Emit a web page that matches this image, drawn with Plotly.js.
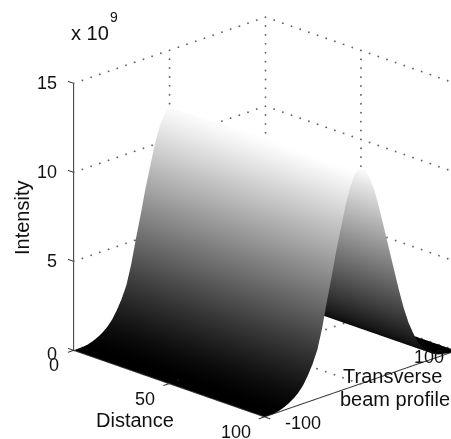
<!DOCTYPE html>
<html>
<head>
<meta charset="utf-8">
<script src="https://cdn.plot.ly/plotly-3.0.0.min.js"></script>
<style>html,body{margin:0;padding:0;background:#fff}#plot{width:451px;height:439px}</style>
</head>
<body>
<div id="plot"></div>
<script>
// Data (intensity in units of 1e9)
var distance = [0, 25, 50, 75, 100];
var peakByDistance = [11.75, 11.85, 11.95, 12.05, 12.15];
var transverse = [-100,-95,-90,-85,-80,-75,-70,-65,-60,-55,-50,-45,-40,-35,-30,-25,-20,-15,-10,-5,0,5,10,15,20,25,30,35,40,45,50,55,60,65,70,75,80,85,90,95,100];
var profile = [0,0.01,0.02,0.06,0.15,0.28,0.45,0.68,1,1.45,2,2.7,3.8,5.2,6.5,7.9,9.1,10.3,11.2,11.8,12,11.8,11.2,10.4,9.3,8.1,6.9,5.7,4.5,3.4,2.5,1.8,1.2,0.8,0.5,0.3,0.16,0.08,0.04,0.01,0];
var zTicks = [0, 5, 10, 15];
var xGrid = [0, 50, 100];
var yGrid = [-100, 0, 100];
var xTickLabels = ['0', '50', '100'];
var yTickLabels = ['-100', '100'];
var zTickLabels = ['0', '5', '10', '15'];

var zMatrix = profile.map(function (v) { return peakByDistance.map(function (p) { return v * p / 12; }); });

var traces = [{
  type: 'surface', x: distance, y: transverse, z: zMatrix,
  colorscale: [[0, '#000000'], [1, '#ffffff']], cmin: 0, cmax: 12, showscale: false,
  lighting: {ambient: 1, diffuse: 0, specular: 0, roughness: 1, fresnel: 0},
  hoverinfo: 'skip'
}];
function seg(xs, ys, zs, color, w) {
  traces.push({type: 'scatter3d', mode: 'lines', x: xs, y: ys, z: zs, hoverinfo: 'skip', showlegend: false,
    line: {color: color, width: w}});
}
var X0 = xGrid[0], X1 = xGrid[2], Y0 = yGrid[0], Y1 = yGrid[2], Z1 = zTicks[3];
// dotted grid, drawn as sparse dots along each grid line
var dx = [], dy = [], dz = [];
function dots(x0, y0, z0, x1, y1, z1, n) {
  for (var i = 0; i <= n; i++) {
    dx.push(x0 + (x1 - x0) * i / n); dy.push(y0 + (y1 - y0) * i / n); dz.push(z0 + (z1 - z0) * i / n);
  }
}
zTicks.forEach(function (z) {
  dots(X0, Y0, z, X0, Y1, z, 22);
  dots(X0, Y1, z, X1, Y1, z, 22);
});
dots(X0, yGrid[1], 0, X0, yGrid[1], Z1, 30);
dots(X0, Y1, 0, X0, Y1, Z1, 30);
dots(xGrid[1], Y1, 0, xGrid[1], Y1, Z1, 30);
dots(xGrid[1], Y0, 0, xGrid[1], Y1, 0, 22);
dots(X0, yGrid[1], 0, X1, yGrid[1], 0, 22);
traces.push({type: 'scatter3d', mode: 'markers', x: dx, y: dy, z: dz, hoverinfo: 'skip', showlegend: false,
  marker: {size: 1.1, color: '#666666', line: {width: 0}}});
// axis lines
var axisColor = '#333333';
seg([X0, X0], [Y0, Y0], [0, Z1], axisColor, 2);
seg([X0, X1], [Y0, Y0], [0, 0], axisColor, 2);
seg([X1, X1], [Y0, Y1], [0, 0], axisColor, 2);
// ticks
zTicks.forEach(function (z) { seg([X0, X0 - 3], [Y0, Y0], [z, z], axisColor, 2); });
xGrid.forEach(function (x) { seg([x, x], [Y0, Y0 - 6], [0, 0], axisColor, 2); });
[Y0, Y1].forEach(function (y) { seg([X1, X1 + 3], [y, y], [0, 0], axisColor, 2); });

var F = {family: 'Liberation Sans, Arial, sans-serif', size: 18, color: '#111111'};
var L = {family: 'Liberation Sans, Arial, sans-serif', size: 20, color: '#111111'};
var sceneAnn = [];
var zShift = [-4, 0, 0, 0];
zTicks.forEach(function (z, i) {
  sceneAnn.push({x: X0, y: Y0, z: z, text: zTickLabels[i], showarrow: false, font: F, xanchor: 'right', yanchor: 'middle', xshift: -15, yshift: zShift[i]});
});
var xShift = [-20, -24, -29];
xGrid.forEach(function (x, i) {
  sceneAnn.push({x: x, y: Y0, z: 0, text: xTickLabels[i], showarrow: false, font: F, xanchor: 'center', yanchor: 'middle', xshift: xShift[i], yshift: -15});
});
[Y0, Y1].forEach(function (y, i) {
  sceneAnn.push({x: X1, y: y, z: 0, text: yTickLabels[i], showarrow: false, font: F, xanchor: 'center', yanchor: 'middle', xshift: i ? -27 : 38, yshift: i ? -6 : -6});
});

function pa(text, px, py, extra) {
  var a = {xref: 'paper', yref: 'paper', x: px / 451, y: 1 - py / 439, text: text, showarrow: false, font: L, xanchor: 'center', yanchor: 'middle'};
  for (var k in extra) a[k] = extra[k];
  return a;
}
var layout = {
  width: 451, height: 439, margin: {l: 0, r: 0, t: 0, b: 0},
  paper_bgcolor: '#ffffff', showlegend: false,
  annotations: [
    pa('Intensity', 22, 218, {textangle: -90}),
    pa('Distance', 135, 420),
    pa('Transverse', 392, 376),
    pa('beam profile', 395, 399),
    pa('x 10', 90, 33),
    pa('9', 114, 17, {font: {family: L.family, size: 14, color: '#111111'}})
  ],
  scene: {
    domain: {x: [0, 1], y: [0, 1]},
    bgcolor: 'rgba(0,0,0,0)',
    aspectmode: 'manual',
    aspectratio: {x: 1.356, y: 1.356, z: 1.297},
    xaxis: {visible: false, range: [-5, 105]},
    yaxis: {visible: false, range: [-110, 110]},
    zaxis: {visible: false, range: [0, 15]},
    camera: {
      projection: {type: 'orthographic'},
      eye: {x: 1.362, y: -1.609, z: 0.765},
      center: {x: -0.1269, y: -0.1276, z: -0.0121},
      up: {x: 0, y: 0, z: 1}
    },
    annotations: sceneAnn
  }
};
Plotly.newPlot('plot', traces, layout, {displayModeBar: false});
</script>
</body>
</html>
